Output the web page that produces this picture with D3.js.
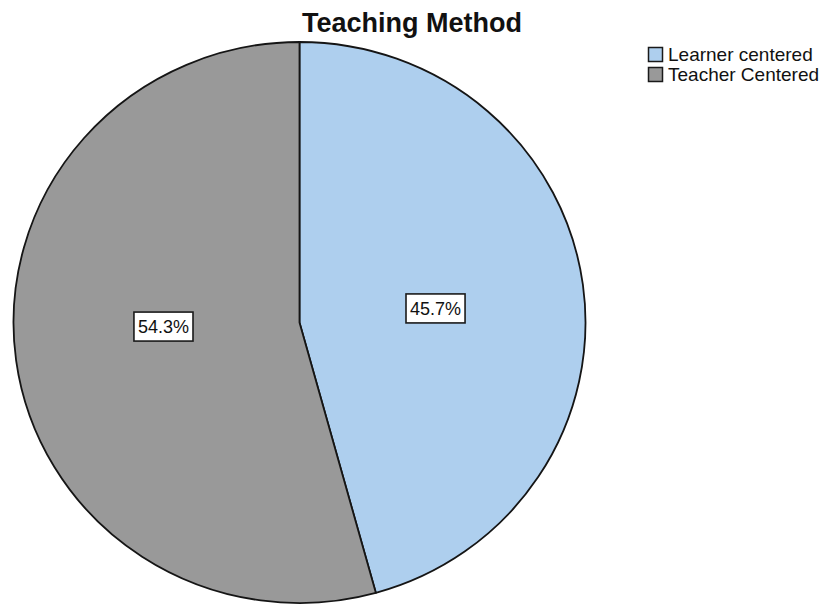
<!DOCTYPE html>
<html>
<head>
<meta charset="utf-8">
<script src="https://cdn.jsdelivr.net/npm/d3@7"></script>
<style>
  html, body { margin: 0; padding: 0; background: #fff; }
  svg { display: block; font-family: "Liberation Sans", Arial, sans-serif; }
</style>
</head>
<body>
<svg id="chart" width="820" height="605"></svg>
<script>
// Teaching method shares (percent)
const categories = ["Learner centered", "Teacher Centered"];
const percents = [45.7, 54.3];
const colors = ["#aecfee", "#999999"];
const chartTitle = "Teaching Method";

const svg = d3.select("#chart");

// pie geometry (plot area is slightly wider than tall, so the pie is an ellipse)
const cx = 299.5, cy = 322.5, rx = 286, ry = 280.5;
const R = 100;

const pie = d3.pie().sort(null).value(d => d)(percents);
const arc = d3.arc().innerRadius(0).outerRadius(R);
const color = d3.scaleOrdinal().domain(categories).range(colors);

const g = svg.append("g")
  .attr("transform", `translate(${cx},${cy}) scale(${rx / R},${ry / R})`);

g.selectAll("path.slice")
  .data(pie)
  .join("path")
  .attr("class", "slice")
  .attr("d", arc)
  .attr("fill", (d, i) => color(categories[i]))
  .attr("stroke", "#151515")
  .attr("stroke-width", 1.8)
  .attr("stroke-linejoin", "round")
  .attr("vector-effect", "non-scaling-stroke");

// percentage labels in white boxes
const labelArc = d3.arc().innerRadius(0).outerRadius(R * 0.96);
const labels = svg.append("g");
pie.forEach((d, i) => {
  const [px, py] = labelArc.centroid(d);
  const x = cx + px * rx / R, y = cy - 5 + py * ry / R * 0.5;
  const lg = labels.append("g").attr("transform", `translate(${x},${y})`);
  const txt = lg.append("text")
    .attr("text-anchor", "middle")
    .attr("dy", "0.35em")
    .attr("font-size", 18)
    .attr("fill", "#111")
    .text(d.data.toFixed(1) + "%");
  const bb = txt.node().getBBox();
  lg.insert("rect", "text")
    .attr("x", bb.x - 4)
    .attr("y", -14.5)
    .attr("width", bb.width + 8)
    .attr("height", 29)
    .attr("fill", "#fff")
    .attr("stroke", "#1a1a1a")
    .attr("stroke-width", 1.6);
});

// title
svg.append("text")
  .attr("x", 412)
  .attr("y", 32)
  .attr("text-anchor", "middle")
  .attr("font-size", 27)
  .attr("font-weight", "bold")
  .attr("fill", "#111")
  .text(chartTitle);

// legend
const legend = svg.append("g").attr("transform", "translate(648,47)");
categories.forEach((c, i) => {
  const row = legend.append("g").attr("transform", `translate(0,${i * 20})`);
  row.append("rect")
    .attr("x", 0.5).attr("y", 0.5)
    .attr("width", 14).attr("height", 14)
    .attr("fill", color(c))
    .attr("stroke", "#1a1a1a")
    .attr("stroke-width", 1.5);
  row.append("text")
    .attr("x", 20)
    .attr("y", 14)
    .attr("font-size", 19)
    .attr("fill", "#111")
    .text(c);
});
</script>
</body>
</html>
